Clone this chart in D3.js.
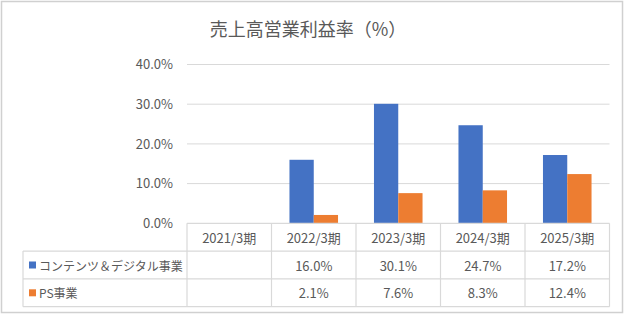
<!DOCTYPE html>
<html><head><meta charset="utf-8">
<script src="https://cdn.jsdelivr.net/npm/d3@7"></script>
<style>body{margin:0;background:#fff}svg{display:block}text{font-family:"Noto Sans CJK JP","Noto Sans",sans-serif;fill:#595959}</style>
</head><body><svg id="c" width="625" height="317"></svg>
<script>
const categories = ["2021/3期","2022/3期","2023/3期","2024/3期","2025/3期"];
const seriesNames = ["コンテンツ＆デジタル事業","PS事業"];
const contentsDigital = [null,16.0,30.1,24.7,17.2];
const psBusiness = [null,2.1,7.6,8.3,12.4];
const yTicks = [0,10,20,30,40];
const title = "売上高営業利益率（%）";

const colors = ["#4472C4","#ED7D31"];
const series = [contentsDigital, psBusiness];
const svg = d3.select("#c");
const grid = "#d9d9d9";

// outer border
svg.append("rect").attr("x",1.5).attr("y",1.5).attr("width",621).attr("height",311)
  .attr("fill","none").attr("stroke","#d0d0d0").attr("stroke-width",1.5);

const L=187, R=609.5, T=64.5, B=223.3;
const x0 = d3.scaleBand().domain(categories).range([L,R]).paddingInner(0).paddingOuter(0);
const x1 = d3.scaleBand().domain([0,1]).range([0,x0.bandwidth()]).paddingInner(0).paddingOuter(0.74);
const y = d3.scaleLinear().domain([0,40]).range([B,T]);

svg.append("text").attr("x",308).attr("y",28).attr("text-anchor","middle").attr("dominant-baseline","central")
  .style("font-size","18px").text(title);

// grid
svg.append("g").selectAll("line").data(yTicks.filter(d=>d>0)).join("line")
  .attr("x1",L).attr("x2",R).attr("y1",d=>y(d)).attr("y2",d=>y(d)).attr("stroke",grid).attr("stroke-width",1);

// y axis labels
const yAxis = d3.axisLeft(y).tickValues(yTicks).tickFormat(d=>d.toFixed(1)+"%").tickSize(0).tickPadding(14);
const ga = svg.append("g").attr("transform",`translate(${L},0)`).call(yAxis);
ga.select(".domain").remove();
ga.selectAll("text").style("font-size","13px").style("font-family",'"Noto Sans CJK JP",sans-serif').attr("fill","#595959");

// bars
series.forEach((vals,si)=>{
  svg.append("g").selectAll("rect").data(categories.map((c,i)=>({c,v:vals[i]})).filter(d=>d.v!=null)).join("rect")
    .attr("x",d=>x0(d.c)+x1(si)).attr("width",x1.bandwidth())
    .attr("y",d=>y(d.v)).attr("height",d=>B-y(d.v)).attr("fill",colors[si]);
});

// data table
const rowH = 27.8;
const TL = 23;
const tb = svg.append("g").attr("stroke",grid).attr("stroke-width",1.2);
// horizontal lines
tb.append("line").attr("x1",L).attr("x2",R).attr("y1",B).attr("y2",B);
for(let r=1;r<=3;r++){
  tb.append("line").attr("x1",TL).attr("x2",R).attr("y1",B+r*rowH).attr("y2",B+r*rowH);
}
// vertical lines
tb.append("line").attr("x1",TL).attr("x2",TL).attr("y1",B+rowH).attr("y2",B+3*rowH);
categories.forEach(c=>{
  tb.append("line").attr("x1",x0(c)).attr("x2",x0(c)).attr("y1",B).attr("y2",B+3*rowH);
});
tb.append("line").attr("x1",R).attr("x2",R).attr("y1",B).attr("y2",B+3*rowH);

// header
svg.append("g").selectAll("text").data(categories).join("text")
  .attr("x",d=>x0(d)+x0.bandwidth()/2).attr("y",B+rowH/2).attr("text-anchor","middle")
  .attr("dominant-baseline","central").style("font-size","13px").text(d=>d);

series.forEach((vals,si)=>{
  const cy = B+rowH*(si+1)+rowH/2;
  svg.append("rect").attr("x",29).attr("y",cy-3.5).attr("width",7).attr("height",7).attr("fill",colors[si]);
  svg.append("text").attr("x",39).attr("y",cy).attr("dominant-baseline","central").style("font-size","12px").text(seriesNames[si]);
  svg.append("g").selectAll("text").data(categories.map((c,i)=>({c,v:vals[i]})).filter(d=>d.v!=null)).join("text")
    .attr("x",d=>x0(d.c)+x0.bandwidth()/2).attr("y",cy).attr("text-anchor","middle")
    .attr("dominant-baseline","central").style("font-size","13px").text(d=>d.v.toFixed(1)+"%");
});
</script></body></html>
